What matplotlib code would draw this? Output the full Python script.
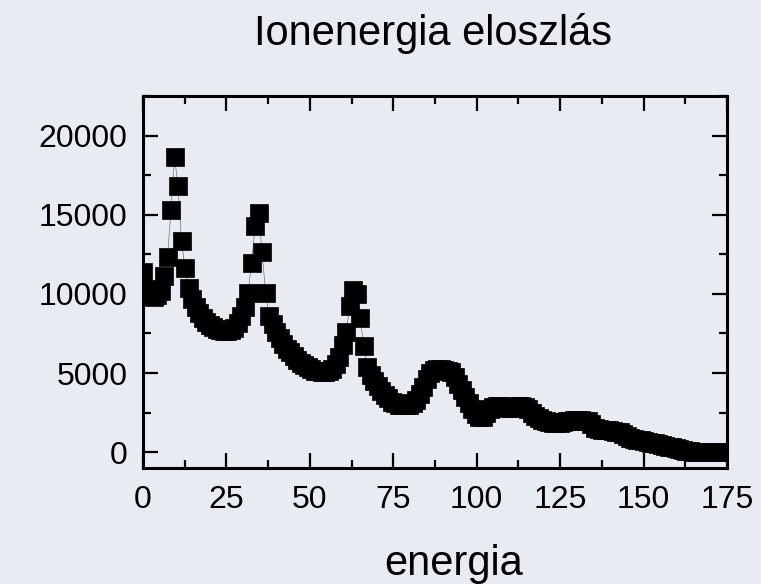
import numpy as np
import matplotlib
matplotlib.use("Agg")
import matplotlib.pyplot as plt
from matplotlib.ticker import MultipleLocator

plt.rcParams['font.family'] = ['Liberation Sans', 'DejaVu Sans']

# ion energy spectrum, one sample every 1.05 energy units starting at 0
step = 1.05
counts = [
    11400, 10300, 9900, 9800, 9900, 10200, 11100, 12360, 15270, 18670,
    16790, 13310, 11650, 10400, 9700, 9200, 8800, 8500, 8250, 8050,
    7900, 7800, 7700, 7650, 7650, 7700, 7850, 8150, 8600, 9200,
    10060, 11960, 14320, 15080, 12620, 10060, 8600, 8100, 7600, 7200,
    6850, 6550, 6300, 6050, 5850, 5650, 5500, 5350, 5250, 5150,
    5100, 5050, 5050, 5100, 5250, 5550, 6000, 6800, 7600, 9250,
    10250, 10000, 8450, 6700, 5400, 4900, 4500, 4150, 3850, 3600,
    3400, 3200, 3080, 3000, 2950, 2950, 3000, 3100, 3300, 3650,
    4100, 4600, 5000, 5200, 5250, 5250, 5200, 5150, 5050, 4750,
    4300, 3900, 3500, 3100, 2700, 2400, 2200, 2250, 2450, 2700,
    2850, 2900, 2900, 2850, 2800, 2800, 2850, 2900, 2900, 2850,
    2700, 2500, 2300, 2150, 2050, 1950, 1900, 1850, 1850, 1850,
    1900, 1950, 2000, 2050, 2050, 2050, 2000, 1950, 1750, 1550,
    1450, 1400, 1400, 1400, 1350, 1300, 1250, 1150, 1000, 900,
    850, 800, 750, 700, 650, 600, 550, 500, 450, 400,
    350, 300, 250, 200, 150, 100, 50, 0, 0, 0,
    0, 0, 0, 0, 0, 0, 0,
]
energy = np.arange(len(counts)) * step

bg = '#e8ecf2'
fig = plt.figure(figsize=(7.61, 5.84), dpi=100, facecolor=bg)
ax = fig.add_axes([0.1879, 0.1986, 0.7674, 0.637])
ax.set_facecolor(bg)

# thin connecting line under the square symbols
ax.plot(energy, counts, color='#555555', lw=0.4, zorder=2)
ax.plot(energy, counts, ls='none', marker='s', ms=13.2,
        mec='black', mfc='black', mew=0.5, zorder=3)

ax.set_xlim(0, 175)
ax.set_ylim(-1000, 22500)
ax.xaxis.set_major_locator(MultipleLocator(25))
ax.xaxis.set_minor_locator(MultipleLocator(12.5))
ax.yaxis.set_major_locator(MultipleLocator(5000))
ax.yaxis.set_minor_locator(MultipleLocator(2500))

for s in ax.spines.values():
    s.set_linewidth(2.2)
    s.set_zorder(4)
ax.tick_params(which='both', direction='in', top=True, right=True, width=1.6,
               labelsize=23)
ax.tick_params(which='major', length=11)
ax.tick_params(which='minor', length=5.5)
ax.tick_params(axis='y', pad=11)
ax.tick_params(axis='x', pad=12)

fig.text(433 / 761, 1 - 45 / 584, 'Ionenergia eloszlás', ha='center',
         va='baseline', fontsize=30)
fig.text(454 / 761, 1 - 575 / 584, 'energia', ha='center', va='baseline',
         fontsize=30)

fig.savefig('out.png', dpi=100, facecolor=bg)
